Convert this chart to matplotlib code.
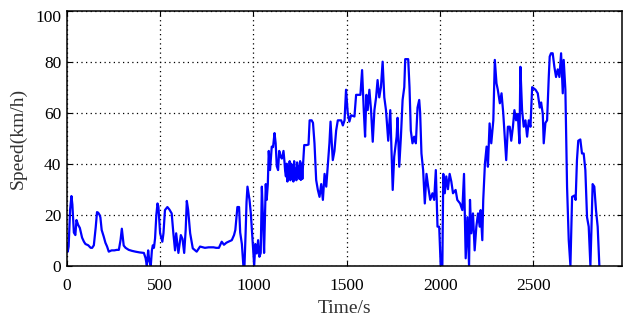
import matplotlib
matplotlib.use("Agg")
import matplotlib.pyplot as plt
import matplotlib.transforms as mtransforms

# Driving cycle: time (s) and vehicle speed (km/h), ten samples per row
time_s = [
    0, 5, 10, 18, 25, 30, 38, 46, 52, 61,
    70, 82, 92, 100, 115, 128, 136, 145, 155, 162,
    168, 175, 180, 187, 198, 207, 216, 225, 240, 255,
    268, 279, 288, 295, 305, 315, 332, 350, 368, 390,
    413, 422, 429, 436, 442, 450, 456, 461, 467, 473,
    480, 486, 491, 500, 506, 512, 518, 526, 539, 550,
    562, 571, 580, 586, 598, 611, 620, 629, 637, 643,
    650, 661, 675, 696, 714, 740, 760, 786, 800, 815,
    830, 842, 855, 866, 884, 896, 903, 908, 914, 923,
    929, 938, 946, 952, 958, 963, 968, 979, 986, 995,
    1004, 1010, 1018, 1025, 1032, 1039, 1045, 1051, 1057, 1066,
    1071, 1077, 1082, 1089, 1098, 1105, 1113, 1119, 1125, 1132,
    1138, 1145, 1152, 1161, 1166, 1170, 1174, 1178, 1182, 1186,
    1190, 1194, 1198, 1202, 1206, 1210, 1214, 1218, 1222, 1226,
    1230, 1234, 1238, 1242, 1246, 1250, 1254, 1258, 1262, 1266,
    1272, 1285, 1295, 1301, 1312, 1319, 1327, 1336, 1345, 1354,
    1363, 1372, 1381, 1390, 1399, 1407, 1413, 1425, 1434, 1443,
    1452, 1470, 1479, 1488, 1496, 1505, 1514, 1523, 1541, 1550,
    1573, 1582, 1591, 1598, 1605, 1612, 1621, 1630, 1639, 1648,
    1657, 1665, 1674, 1683, 1692, 1701, 1710, 1722, 1733, 1740,
    1746, 1754, 1767, 1772, 1781, 1790, 1799, 1808, 1813, 1829,
    1836, 1843, 1852, 1861, 1870, 1879, 1888, 1893, 1900, 1909,
    1918, 1927, 1936, 1947, 1959, 1968, 1977, 1986, 1995, 2003,
    2012, 2017, 2025, 2033, 2042, 2051, 2060, 2069, 2083, 2092,
    2107, 2119, 2128, 2137, 2146, 2155, 2160, 2167, 2176, 2185,
    2194, 2203, 2212, 2217, 2226, 2231, 2240, 2249, 2256, 2265,
    2274, 2285, 2293, 2302, 2309, 2320, 2329, 2338, 2345, 2354,
    2363, 2373, 2381, 2390, 2398, 2407, 2416, 2425, 2430, 2439,
    2448, 2457, 2466, 2475, 2484, 2493, 2502, 2511, 2523, 2534,
    2541, 2550, 2555, 2564, 2573, 2582, 2587, 2594, 2603, 2612,
    2621, 2630, 2639, 2648, 2657, 2662, 2671, 2680, 2689, 2698,
    2707, 2719, 2726, 2733, 2740, 2751, 2760, 2769, 2778, 2787,
    2796, 2805, 2810, 2817, 2826, 2835, 2844, 2853,
]
speed_kmh = [
    8.5, 5.5, 7.5, 22, 27.3, 24, 13, 12, 17.9, 16,
    14.8, 11, 9.4, 8.5, 8, 7, 7, 8, 15, 21,
    20.8, 20, 19, 14, 11.4, 9, 7.5, 5.5, 6, 6,
    6.2, 6.2, 10, 14.5, 7.9, 7, 6.2, 5.8, 5.5, 5.2,
    5, 3, 0, 6, 2, 0, 6, 8, 7, 10.7,
    20, 24.4, 23, 12.7, 11, 9.4, 12.7, 21.8, 23, 22,
    20.5, 12.7, 6, 12.7, 5, 12, 10.5, 5, 14, 25.4,
    22, 12.7, 6.8, 5.5, 7.5, 7, 7.2, 7.2, 7, 7,
    9.4, 8.2, 9, 9.4, 10, 12, 14, 18, 23, 23,
    13, 8.5, 0, 0, 12.7, 25, 31, 25.8, 20.5, 10,
    0, 8.5, 4.8, 10, 3.5, 5, 31, 19, 5, 32,
    25.8, 32, 45, 37.5, 46.7, 46.5, 52, 48, 39, 37.5,
    45, 43, 42, 45, 41, 37, 35, 40, 33, 39,
    34.5, 41, 33.5, 40, 34, 39.5, 33, 41, 34, 38,
    33.5, 40.5, 35, 39, 34, 41, 33.6, 40, 34, 40,
    47.3, 47.3, 47.5, 57, 57, 56, 48, 33.6, 29.7, 27,
    32, 25.8, 36, 31, 40, 48, 56.5, 41.4, 45, 53,
    57, 57, 55, 57, 69, 60, 56.5, 59, 58.5, 67,
    67, 76.7, 61, 50.6, 67, 61, 69, 61, 48.6, 61,
    66, 72.8, 66, 70, 80, 66, 61, 49, 61, 44,
    29.7, 42.7, 50.6, 58, 38.8, 50.6, 65, 70, 81, 81,
    70, 53, 48, 50.6, 48, 62, 65, 60, 44, 37.5,
    24.4, 36, 31, 25.8, 28.4, 25.8, 37.5, 15.3, 15.3, 0,
    0, 36, 28.4, 35, 30, 36, 33, 28.4, 29.7, 25.8,
    24.4, 21.8, 36, 2.9, 19, 0, 25.8, 12.7, 20.5, 6,
    15.3, 20.5, 15.3, 21.8, 10, 25.8, 40, 46.7, 38.8, 55.8,
    48, 57, 80.7, 71.5, 69, 63.7, 67.6, 60, 52, 41.4,
    54.5, 54.5, 49, 54.5, 61, 57, 59.5, 48, 78, 61,
    54.5, 57, 50.6, 57, 54.5, 70, 69.5, 69, 67.6, 62,
    64, 59.5, 48, 56, 57, 74, 82, 83.3, 83.3, 78,
    74, 77, 74, 83.3, 67.6, 80.7, 69, 31, 10, 0,
    27, 27.5, 25.8, 41.4, 49, 49.5, 44, 44, 37.5, 19,
    15.3, 0, 12.7, 32, 31, 21.8, 15.3, 0,
]

x_ticks = [0, 500, 1000, 1500, 2000, 2500]
y_ticks = [0, 20, 40, 60, 80, 100]

plt.rcParams["font.family"] = ["Liberation Serif", "DejaVu Serif"]

fig = plt.figure(figsize=(6.24, 3.24), dpi=100)
ax = fig.add_axes([0.107, 0.18, 0.890, 0.787])

ax.plot(time_s, speed_kmh, color="#0000ff", linewidth=1.6, solid_joinstyle="round")

ax.set_xlim(0, 2975)
ax.set_ylim(0, 100)
ax.set_xticks(x_ticks)
ax.set_yticks(y_ticks)

ax.grid(True, color="black", linestyle=(0, (1, 2.7)), linewidth=0.9)
ax.tick_params(direction="in", top=True, right=True, length=3.5, width=0.8,
               labelsize=12.5)
ax.tick_params(axis="x", pad=9)
ax.tick_params(axis="y", pad=4)
for sp in ax.spines.values():
    sp.set_linewidth(1.1)

# keep the top y label inside the canvas
top_label = ax.get_yticklabels()[-1]
top_label.set_transform(top_label.get_transform() +
                        mtransforms.ScaledTranslation(0, -5 / 100, fig.dpi_scale_trans))

ax.set_xlabel("Time/s", fontsize=14, color="#333333", labelpad=4)
ax.set_ylabel("Speed(km/h)", fontsize=14, color="#333333", labelpad=6)

fig.savefig("out.png", dpi=100)
